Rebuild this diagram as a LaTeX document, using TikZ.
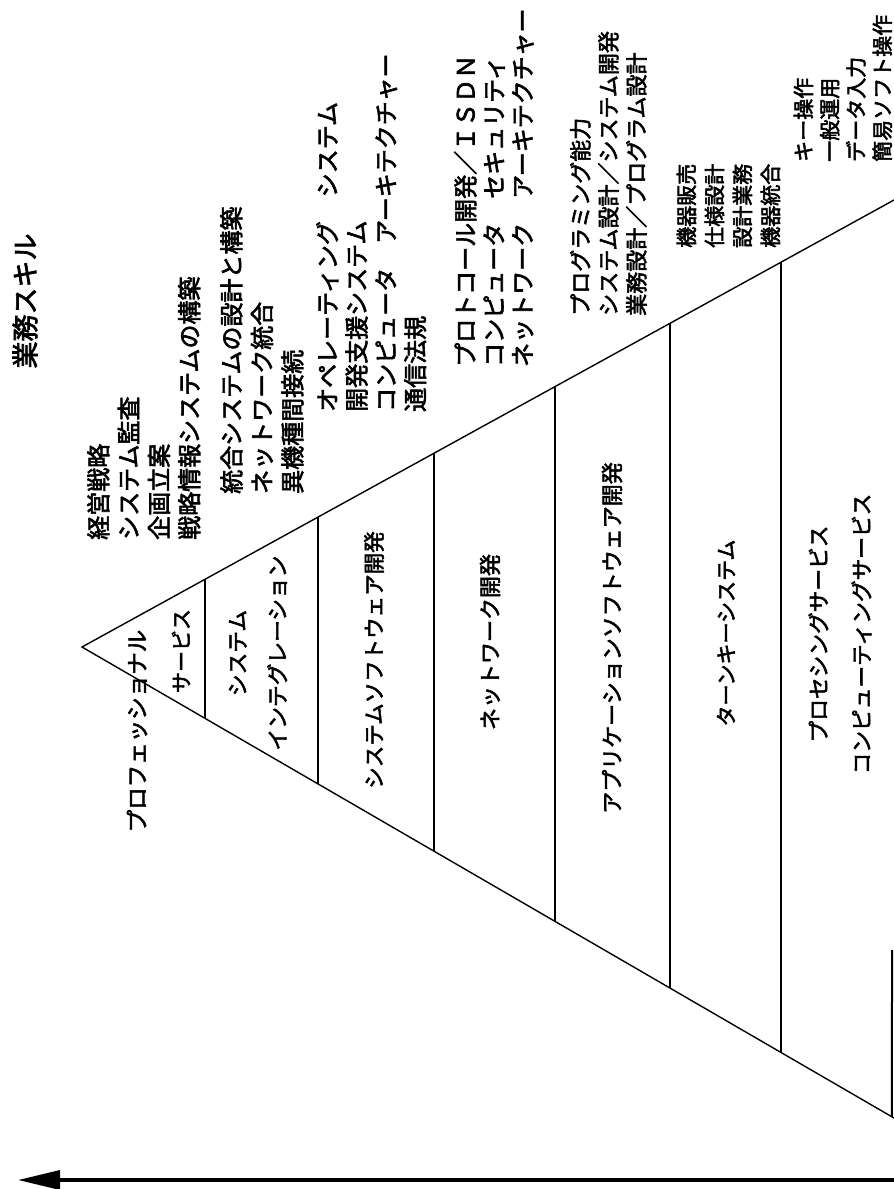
\documentclass[tikz,border=0pt]{standalone}
\usepackage{fontspec}
\newfontfamily\jp{Noto Sans CJK JP}[FakeBold=2.5]
\usetikzlibrary{arrows.meta,calc}
\newcommand\jfs[2]{\jp\fontsize{#1}{#2}\selectfont}
\tikzset{
  edgeline/.style={line width=1.4pt, line cap=round},
  sepline/.style={line width=2pt},
  lbl/.style={rotate=90, inner sep=0pt, align=left, anchor=north west},
  mid/.style={rotate=90, inner sep=0pt, align=center, anchor=center},
  bigarrow/.style={line width=3.5pt, -{Triangle[length=42pt,width=19pt]}},
}
\begin{document}
\begin{tikzpicture}[x=1pt,y=1pt]
\useasboundingbox[fill=white] (0,0) rectangle (894,-1189);
% triangle
\coordinate (A) at (82,-647);
\coordinate (U) at (894,-200);
\coordinate (L) at (894,-1118);
\draw[edgeline] (U) -- (A) -- (L);
\foreach \f in {0.1515,0.2906,0.4335,0.5825,0.7241,0.8608}
  \draw[sepline] ($(A)!\f!(U)$) -- ($(A)!\f!(L)$);
\coordinate (lastTop) at (892,-950);
\draw[sepline] (lastTop) -- ($(A)!0.9975!(L)$);
% arrow
\coordinate (arrS) at (894,-1180);
\coordinate (arrE) at (18,-1180);
\draw[bigarrow] (arrS) -- (arrE);
% title
\node[mid, font=\jfs{27}{30}] (title) at (25,-301) {業務スキル};
% skill lists
\node[lbl, font=\jfs{24}{30.3}] (skA) at (87,-540) {経営戦略\\システム監査\\企画立案\\戦略情報システムの構築};
\node[lbl, font=\jfs{24}{30.5}] (skB) at (220,-494) {統合システムの設計と構築\\ネットワーク統合\\異機種間接続};
\node[lbl, font=\jfs{24}{29.3}] (skC) at (316,-412) {オペレーティング　システム\\開発支援システム\\コンピュータ　アーキテクチャー\\通信法規};
\node[lbl, font=\jfs{24}{28.5}] (skD) at (454,-367) {プロトコール開発／ＩＳＤＮ\\コンピュータ　セキュリティ\\ネットワーク　アーキテクチャー};
\node[lbl, font=\jfs{22}{28}] (skE) at (570,-316) {プログラミング能力\\システム設計／システム開発\\業務設計／プログラム設計};
\node[lbl, font=\jfs{21}{28}] (skF) at (676.5,-248) {機器販売\\仕様設計\\設計業務\\機器統合};
\node[lbl, font=\jfs{21}{26.3}] (skG) at (793.5,-162) {キー操作\\一般運用\\データ入力\\簡易ソフト操作};
% layer labels
\node[mid, font=\jfs{22.5}{30}] (prof) at (137,-731) {プロフェッショナル};
\node[mid, font=\jfs{21}{30}] (serv) at (181,-651) {サービス};
\node[mid, font=\jfs{21.7}{40}] (sysint) at (258,-653) {システム\\インテグレーション};
\node[mid, font=\jfs{21.5}{30}] (syssw) at (374,-660) {システムソフトウェア開発};
\node[mid, font=\jfs{22}{30}] (netdev) at (490,-642) {ネットワーク開発};
\node[mid, font=\jfs{22}{30}] (appsw) at (612,-638) {アプリケーションソフトウェア開発};
\node[mid, font=\jfs{21}{30}] (turnkey) at (726,-633) {ターンキーシステム};
\node[mid, font=\jfs{21.7}{43}] (proc) at (840,-634) {プロセシングサービス\\コンピューティングサービス};
\end{tikzpicture}
\end{document}
